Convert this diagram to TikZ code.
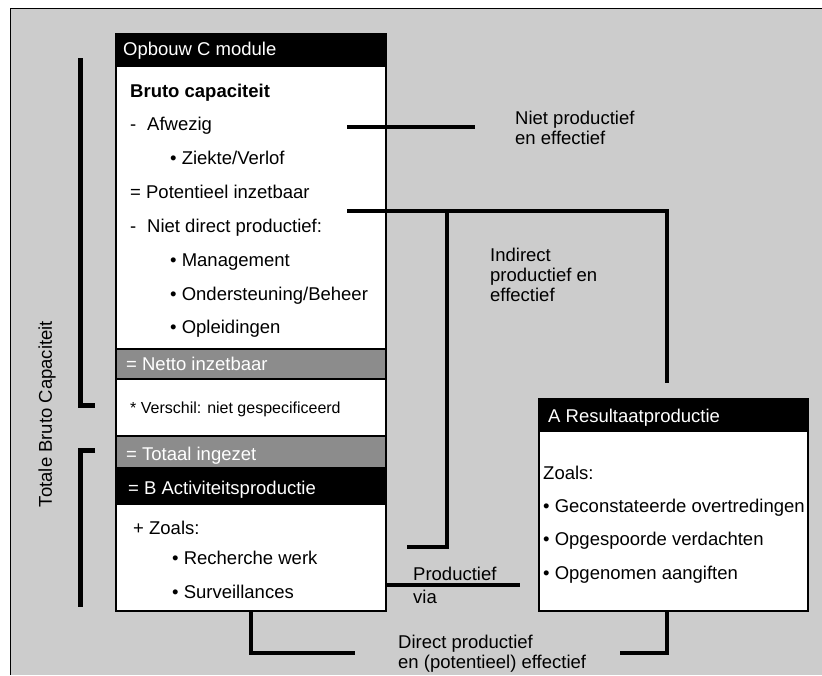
\documentclass[tikz,border=0pt]{standalone}
\usepackage{fontspec}
\setmainfont{Liberation Sans}

\begin{document}
\begin{tikzpicture}[x=1pt, y=-1pt]
    \tikzstyle{box}=[draw, anchor=north west, inner sep=0pt, line width=1.5pt, minimum width=270pt]
    \tikzstyle{txt}=[anchor=base west, inner sep=0pt, font=\fontsize{18.5}{20}\selectfont]
    \tikzstyle{link}=[line width=4pt]
    \tikzstyle{brace}=[line width=5pt]

    \useasboundingbox (0,0) rectangle (822,675);
    \fill[black!20] (10,8) rectangle (822,675);
    \draw (10,675) -- (10,8) -- (822,8);

    \node[box, fill=black, minimum height=32pt] (ctitle) at (115,33) {};
    \node[box, fill=white, minimum height=283pt] (cbody) at (115,65) {};
    \node[box, fill=black!45, minimum height=30pt] (netto) at (115,348) {};
    \node[box, fill=white, minimum height=57pt] (versch) at (115,378) {};
    \node[box, fill=black!45, minimum height=32pt] (totaal) at (115,435) {};
    \node[box, fill=black, minimum height=34pt] (btitle) at (115,469) {};
    \node[box, fill=white, minimum height=107pt] (bbody) at (115,503) {};

    \node[box, fill=black, minimum width=269pt, minimum height=32pt] (atitle) at (538,398) {};
    \node[box, fill=white, minimum width=269pt, minimum height=180pt] (abody) at (538,430) {};

    \node[txt, text=white] (ctxt) at (123,55) {Opbouw C module};
    \foreach \x/\t [count=\i from 0] in {130/{\textbf{Bruto capaciteit}},
            130/{\makebox[17pt][l]{-}Afwezig}, 170/{• Ziekte/Verlof},
            130/{= Potentieel inzetbaar}, 130/{\makebox[17pt][l]{-}Niet direct productief:},
            170/{• Management}, 170/{• Ondersteuning/Beheer}, 170/{• Opleidingen}}
        \node[txt] (c\i) at (\x, 97+33.85*\i) {\t};

    \node[txt, text=white] (nettotxt) at (126,370) {= Netto inzetbaar};
    \node[txt, font=\fontsize{16}{18}\selectfont] (verschtxt) at (130,413) {* Verschil: niet gespecificeerd};
    \node[txt, text=white] (totaaltxt) at (126,460) {= Totaal ingezet};
    \node[txt, text=white] (btxt) at (128,494) {= B Activiteitsproductie};

    \node[txt] (b0) at (133,534) {+ Zoals:};
    \foreach \t [count=\i] in {Recherche werk, Surveillances}
        \node[txt] (b\i) at (172, 531+33.5*\i) {• \t};

    \node[txt, text=white] (atxt) at (548,422) {A Resultaatproductie};
    \node[txt] (a0) at (543,479) {Zoals:};
    \foreach \t [count=\i] in {Geconstateerde overtredingen, Opgespoorde verdachten, Opgenomen aangiften}
        \node[txt] (a\i) at (543, 478.5+33.5*\i) {• \t};

    \node[txt, rotate=90, anchor=center] (tbc) at (47,414) {Totale Bruto Capaciteit};
    \draw[brace] (80,58) |- (95,405);
    \draw[brace] (95,450) -| (80,607);

    \coordinate (afwL) at (347,127);
    \coordinate (afwR) at (475,127);
    \coordinate (ndL) at (347,211);
    \coordinate (ndK) at (447,211);
    \coordinate (ndA) at (667,383);
    \coordinate (ndB) at (407,547);
    \coordinate (pvR) at (520,585);
    \coordinate (dirB) at (355,653);
    \coordinate (dirA) at (620,653);

    \draw[link] (afwL) -- (afwR);
    \draw[link] (ndL) -| (ndA);
    \draw[link] (ndK) |- (ndB);
    \draw[link] (bbody.east |- pvR) -- (pvR);
    \draw[link] (bbody.south) |- (dirB);
    \draw[link] (ndA |- abody.south) |- (dirA);

    \node[txt, align=left, anchor=north west] (nplbl) at (515,111) {Niet productief\\en effectief};
    \node[txt, align=left, anchor=north west] (iplbl) at (490,248) {Indirect\\productief en\\effectief};
    \node[txt] (pvlbl1) at (413,580) {Productief};
    \node[txt] (pvlbl2) at (413,603) {via};
    \node[txt, align=left, anchor=north west] (dirlbl) at (398,635) {Direct productief\\en (potentieel) effectief};
\end{tikzpicture}
\end{document}
